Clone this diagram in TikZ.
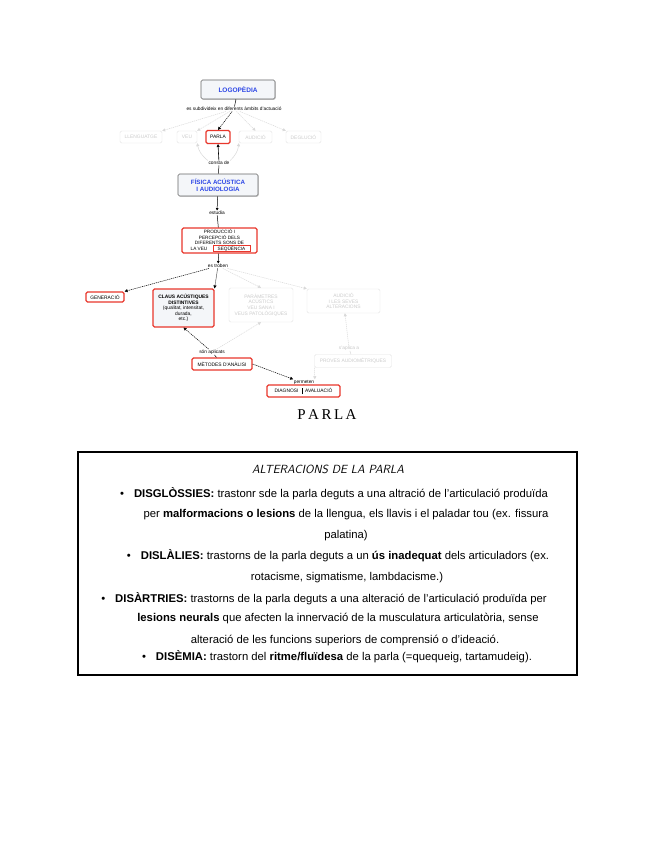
\documentclass[tikz,border=0pt]{standalone}
\usepackage{fontspec}
\setmainfont{Liberation Sans}
\newfontfamily\serifp{Liberation Serif}
\usetikzlibrary{arrows.meta,shadows}
\definecolor{cred}{HTML}{E8372C}
\definecolor{cblue}{HTML}{2B45E6}
\definecolor{cfill}{HTML}{F4F6F9}
\tikzset{
  cmbox/.style={draw=gray!55, rounded corners=1.5pt, fill=white, font=\fontsize{4.9}{5.6}\selectfont, align=center, inner sep=0.5pt, line width=0.4pt},
  faded/.style={cmbox, draw=gray!22, text=gray!40},
  active/.style={cmbox, draw=cred, line width=1.1pt, text=black},
  titlebox/.style={cmbox, draw=gray!80!black, line width=0.6pt, fill=cfill, text=cblue, font=\fontsize{6.2}{7}\selectfont\bfseries, drop shadow={shadow xshift=0.8pt, shadow yshift=-0.8pt, fill=gray!60}},
  lbl/.style={font=\fontsize{4.8}{5.4}\selectfont, inner sep=0.5pt, fill=white},
  glbl/.style={lbl, text=gray!45},
  blk/.style={draw=black, dash pattern=on 1.2pt off 0.8pt, line width=0.5pt, -{Triangle[length=3pt,width=3pt]}},
  gry/.style={draw=gray!30, dash pattern=on 1.2pt off 0.8pt, line width=0.5pt, -{Triangle[length=3pt,width=3pt]}},
  sol/.style={draw=black, line width=0.5pt},
  txt/.style={font=\fontsize{11.3}{13}\selectfont, inner sep=0pt, anchor=center}
}
\begin{document}
\begin{tikzpicture}[x=1pt,y=-1pt]
\fill[white] (0,0) rectangle (655,848);
\useasboundingbox (0,0) rectangle (655,848);

% ---------- concept map ----------
\node[titlebox, minimum width=74pt, minimum height=19pt, font=\fontsize{6.5}{7}\selectfont\bfseries] (logo) at (238,89.5) {LOGOPÈDIA};
\node[lbl] (lab1) at (234,109) {es subdivideix en diferents àmbits d'actuació};

\node[faded, minimum width=42pt, minimum height=12pt] (llen) at (141,137) {LLENGUATGE};
\node[faded, minimum width=20pt, minimum height=12pt] (veu) at (187,137) {VEU};
\node[active, minimum width=24pt, minimum height=13pt] (parla) at (218,137) {PARLA};
\node[faded, minimum width=33pt, minimum height=12pt] (aud1) at (255.5,137) {AUDICIÓ};
\node[faded, minimum width=35pt, minimum height=12pt] (degl) at (303.5,137) {DEGLUCIÓ};

\draw[sol] (logo) -- (lab1);
\draw[gry] (lab1) -- (llen.north east);
\draw[gry] (lab1) -- (veu.north east);
\draw[blk] (lab1) -- (parla.north);
\draw[gry] (lab1) -- (aud1.north);
\draw[gry] (lab1) -- (degl.north west);

\node[lbl] (lab2) at (219,163) {consta de};
\node[titlebox, minimum width=80pt, minimum height=22pt] (fisica) at (218,185) {FÍSICA ACÚSTICA\\I AUDIOLOGIA};
\draw[sol] (fisica) -- (lab2);
\draw[draw=black, line width=0.6pt, -{Triangle[length=3pt,width=3pt]}] (lab2) -- (parla.south);
\draw[gry, solid] (lab2.north west) to[bend left=20] (veu.south east);
\draw[gry, solid] (lab2.north east) to[bend right=20] (aud1.south west);

\node[lbl] (lab3) at (217,213) {estudia};
\draw[draw=black, line width=0.5pt, -{Triangle[length=2.5pt,width=2.5pt]}] (fisica) -- (lab3);

\node[active, minimum width=75pt, minimum height=25pt] (prod) at (219.5,240.5) {};
\node[font=\fontsize{4.7}{5.6}\selectfont, align=center, inner sep=0pt] (prodt) at (219.5,237) {PRODUCCIÓ I\\PERCEPCIÓ DELS\\DIFERENTS SONS DE};
\node[font=\fontsize{4.7}{5}\selectfont, inner sep=0pt] (prodv) at (199,248.5) {LA VEU};
\node[draw=cred, line width=0.9pt, font=\fontsize{4.7}{5}\selectfont, inner sep=0.5pt, minimum width=37pt, minimum height=6pt] (seq) at (231.5,248.5) {SEQÜÈNCIA};
\draw[sol] (lab3) -- (prod);

\node[lbl] (lab4) at (218,266) {es troben};
\draw[draw=black, line width=0.5pt, -{Triangle[length=2.5pt,width=2.5pt]}] (prod) -- (lab4);

\node[active, minimum width=38pt, minimum height=10pt] (gen) at (105,297) {GENERACIÓ};
\node[active, fill=cfill, minimum width=61pt, minimum height=38pt] (claus) at (183.5,308) {\textbf{CLAUS ACÚSTIQUES}\\\textbf{DISTINTIVES}\\(qualitat, intensitat,\\durada,\\etc.)};
\node[faded, minimum width=64pt, minimum height=34pt] (param) at (261,305) {PARÀMETRES\\ACÚSTICS\\VEU SANA I\\VEUS PATOLÒGIQUES};
\node[faded, minimum width=73pt, minimum height=24pt] (aud2) at (343.5,301) {AUDICIÓ\\I LES SEVES\\ALTERACIONS};

\draw[blk] (lab4) -- (gen.north east);
\draw[blk] (lab4) -- (claus.north east);
\draw[gry] (lab4) -- (param.north);
\draw[gry] (lab4) -- (aud2.north west);

\node[glbl] (lab5) at (349,348) {s'aplica a};
\node[faded, minimum width=77pt, minimum height=13pt] (proves) at (353,361) {PROVES AUDIOMÈTRIQUES};
\draw[gry] (lab5) -- (aud2);
\draw[draw=gray!30, line width=0.5pt] (lab5) -- (proves);

\node[lbl] (lab6) at (212,352) {són aplicats};
\node[active, minimum width=60pt, minimum height=12pt] (metod) at (222,364) {MÈTODES D'ANÀLISI};
\draw[sol] (metod) -- (lab6);
\draw[blk] (lab6) -- (claus.south);
\draw[gry] (lab6) -- (param.south);

\node[lbl] (lab7) at (304,382) {permeten};
\node[active, minimum width=73pt, minimum height=12pt] (diag) at (303.5,391) {DIAGNOSI\hspace{3pt}\rule[-1.5pt]{0.6pt}{6pt}\hspace{3pt}AVALUACIÓ};
\draw[blk] (metod.east) -- (lab7.north west);
\draw[gry] (proves.south west) -- (lab7.north east);
\draw[sol] (lab7) -- (diag);

\node[font=\serifp\fontsize{15}{17}\selectfont, inner sep=0pt] (ttl) at (327,415) {P\,A\,R\,L\,A};

% ---------- text box ----------
\node[draw=black, line width=1.4pt, minimum width=499pt, minimum height=223pt, inner sep=0pt] (box) at (327.5,563.5) {};
\node[font=\sffamily\itshape\fontsize{11.8}{13}\selectfont, inner sep=0pt] (alt) at (328,469) {ALTERACIONS DE LA PARLA};

\node[txt] (l1) at (334,494) {\textbullet\hspace{10pt}\textbf{DISGLÒSSIES:} trastonr sde la parla deguts a una altració de l'articulació produïda};
\node[txt] (l2) at (346,515) {per \textbf{malformacions o lesions} de la llengua, els llavis i el paladar tou (ex. fissura};
\node[txt] (l3) at (346,536) {palatina)};
\node[txt] (l4) at (338,556) {\textbullet\hspace{10pt}\textbf{DISLÀLIES:} trastorns de la parla deguts a un \textbf{ús inadequat} dels articuladors (ex.};
\node[txt] (l5) at (347,578) {rotacisme, sigmatisme, lambdacisme.)};
\node[txt] (l6) at (324,599) {\textbullet\hspace{10pt}\textbf{DISÀRTRIES:} trastorns de la parla deguts a una alteració de l'articulació produïda per};
\node[txt] (l7) at (338,619) {\textbf{lesions neurals} que afecten la innervació de la musculatura articulatòria, sense};
\node[txt] (l8) at (345,641) {alteració de les funcions superiors de comprensió o d'ideació.};
\node[txt] (l9) at (337,657) {\textbullet\hspace{10pt}\textbf{DISÈMIA:} trastorn del \textbf{ritme/fluïdesa} de la parla (=quequeig, tartamudeig).};
\end{tikzpicture}
\end{document}
